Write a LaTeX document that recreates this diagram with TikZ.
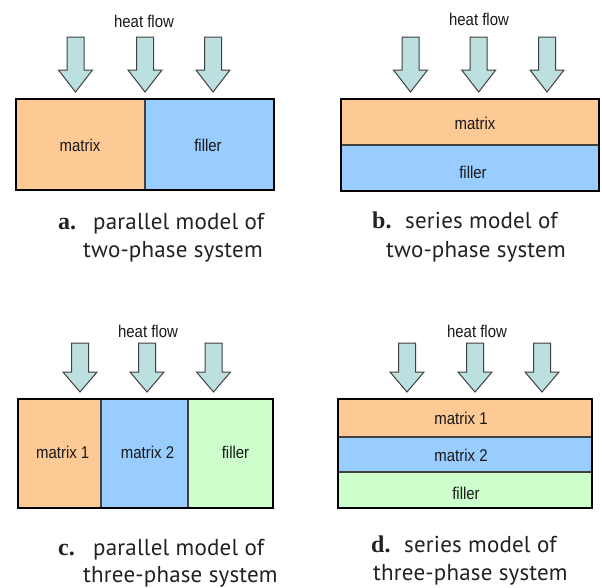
\documentclass[tikz,border=0pt]{standalone}
\usepackage{fontspec}
\setmainfont{Liberation Sans}
\newfontfamily\lblfont[FakeStretch=0.88]{Liberation Sans}
\newfontfamily\capfont[LetterSpace=0.8]{PT Sans}
\newfontfamily\capser{Liberation Serif}
\definecolor{matone}{HTML}{FDC995}
\definecolor{mattwo}{HTML}{99CCFF}
\definecolor{fillc}{HTML}{CCFFCC}
\definecolor{arrowfill}{HTML}{BCDFE0}
\definecolor{arrowline}{HTML}{404040}
\definecolor{captcol}{HTML}{222222}
\newcommand\heatarrow[4]{%
  \draw[harrow] (#1-8.5,#2) -- (#1+8.5,#2) -- (#1+8.5,#3) -- (#1+17,#3) -- (#1,#4)
    -- (#1-17,#3) -- (#1-8.5,#3) -- cycle;}
\tikzset{
  box/.style={draw=black, line width=2.4pt},
  cellline/.style={draw=black!75, line width=1.4pt},
  harrow/.style={fill=arrowfill, draw=arrowline, line width=1pt, line join=miter},
  lbl/.style={font=\lblfont\fontsize{17}{20}\selectfont, text=black!90, inner sep=0pt},
  captext/.style={font=\capfont\fontsize{23}{26}\selectfont, text=captcol, anchor=base west, inner sep=0pt},
  caplet/.style={font=\capser\bfseries\fontsize{24}{26}\selectfont, text=captcol, anchor=base west, inner sep=0pt}
}
\begin{document}
\begin{tikzpicture}[x=1pt,y=-1pt]
\useasboundingbox[fill=white] (0,0) rectangle (602,587);
% ---------- panel a ----------
\node[lbl] (hfa) at (144,21) {heat flow};
\heatarrow{75.5}{37}{70}{92}
\heatarrow{145}{37}{70}{92}
\heatarrow{213}{37}{70}{92}
\fill[matone] (16,99) rectangle (145,190);
\fill[mattwo] (145,99) rectangle (274,190);
\draw[cellline] (145,99) -- (145,190);
\draw[box] (16,99) rectangle (274,190);
\node[lbl] (ma) at (80,145) {matrix};
\node[lbl] (fa) at (208,145) {filler};
\node[caplet] (capa) at (58,229) {a.};
\node[captext] (capa1) at (93,229) {parallel model of};
\node[captext] (capa2) at (83,257) {two-phase system};
% ---------- panel b ----------
\node[lbl] (hfb) at (479,19) {heat flow};
\heatarrow{410.5}{37}{70}{92}
\heatarrow{478.7}{37}{70}{92}
\heatarrow{547}{37}{70}{92}
\fill[matone] (341,99) rectangle (599,145);
\fill[mattwo] (341,145) rectangle (599,191);
\draw[cellline] (341,145) -- (599,145);
\draw[box] (341,99) rectangle (599,191);
\node[lbl] (mb) at (475,123) {matrix};
\node[lbl] (fb) at (473,172) {filler};
\node[caplet] (capb) at (372,228) {b.};
\node[captext] (capb1) at (405,228) {series model of};
\node[captext] (capb2) at (386,257) {two-phase system};
% ---------- panel c ----------
\node[lbl] (hfc) at (148,331) {heat flow};
\heatarrow{80}{343}{372}{392}
\heatarrow{147}{343}{372}{392}
\heatarrow{213.5}{343}{372}{392}
\fill[matone] (18,399) rectangle (101,508);
\fill[mattwo] (101,399) rectangle (188,508);
\fill[fillc] (188,399) rectangle (273,508);
\draw[cellline] (101,399) -- (101,508);
\draw[cellline] (188,399) -- (188,508);
\draw[box] (18,399) rectangle (273,508);
\node[lbl] (mc1) at (62.7,452) {matrix 1};
\node[lbl] (mc2) at (147.5,452) {matrix 2};
\node[lbl] (fc) at (235.5,452) {filler};
\node[caplet] (capc) at (58,555) {c.};
\node[captext] (capc1) at (93,555) {parallel model of};
\node[captext] (capc2) at (83,582) {three-phase system};
% ---------- panel d ----------
\node[lbl] (hfd) at (477,331) {heat flow};
\heatarrow{407}{343}{372}{392}
\heatarrow{475}{343}{372}{392}
\heatarrow{542}{343}{372}{392}
\fill[matone] (338,399) rectangle (592,437);
\fill[mattwo] (338,437) rectangle (592,472);
\fill[fillc] (338,472) rectangle (592,508);
\draw[cellline] (338,437) -- (592,437);
\draw[cellline] (338,472) -- (592,472);
\draw[box] (338,399) rectangle (592,508);
\node[lbl] (md1) at (461,418) {matrix 1};
\node[lbl] (md2) at (461,455) {matrix 2};
\node[lbl] (fd) at (466,493) {filler};
\node[caplet] (capd) at (371,552) {d.};
\node[captext] (capd1) at (404,552) {series model of};
\node[captext] (capd2) at (373,580) {three-phase system};
\end{tikzpicture}
\end{document}
